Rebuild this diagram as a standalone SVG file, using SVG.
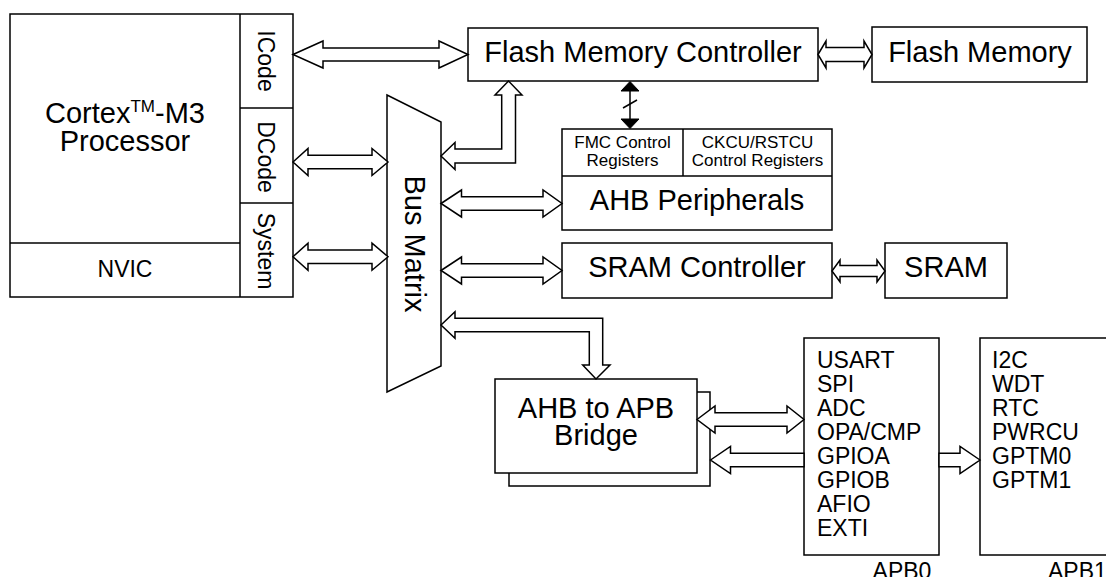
<svg xmlns="http://www.w3.org/2000/svg" width="1106" height="577" viewBox="0 0 1106 577">
<style>
.box{fill:#fff;stroke:#000;stroke-width:1.5}
.ln{fill:none;stroke:#000;stroke-width:1.5}
.arr{fill:#fff;stroke:#000;stroke-width:1.5;stroke-linejoin:miter}
text{font-family:"Liberation Sans",Arial,sans-serif;fill:#000}
.L{font-size:29px}
.M{font-size:23px}
.S{font-size:17px}
.c{text-anchor:middle}
</style>
<rect width="1106" height="577" fill="#fff"/>
<g id="processor">
<rect class="box" x="10" y="14" width="283" height="283"/>
<line class="ln" x1="240" y1="14" x2="240" y2="297"/>
<line class="ln" x1="10" y1="243" x2="240" y2="243"/>
<line class="ln" x1="240" y1="108" x2="293" y2="108"/>
<line class="ln" x1="240" y1="203" x2="293" y2="203"/>
<text class="L c" x="125" y="123">Cortex<tspan font-size="17" dy="-11">TM</tspan><tspan dy="11">-M3</tspan></text>
<text class="L c" x="125" y="151">Processor</text>
<text class="M c" x="125" y="277">NVIC</text>
<text class="M c" transform="translate(258,61) rotate(90)">ICode</text>
<text class="M c" transform="translate(258,157) rotate(90)">DCode</text>
<text class="M c" transform="translate(258,251) rotate(90)">System</text>
</g>
<g id="busmatrix">
<polygon class="box" points="387,95 441,122 441,366 387,392"/>
<text class="L c" transform="translate(405,244) rotate(90)">Bus Matrix</text>
</g>
<g id="fmc">
<rect class="box" x="468" y="28" width="350" height="53"/>
<text class="L c" x="643" y="62">Flash Memory Controller</text>
</g>
<g id="flash">
<rect class="box" x="872" y="27" width="215" height="55"/>
<text class="L c" x="980" y="62">Flash Memory</text>
</g>
<g id="ahb">
<rect class="box" x="562" y="129" width="270" height="101"/>
<line class="ln" x1="562" y1="176" x2="832" y2="176"/>
<line class="ln" x1="683" y1="129" x2="683" y2="176"/>
<text class="S c" x="622.5" y="148">FMC Control</text>
<text class="S c" x="622.5" y="166">Registers</text>
<text class="S c" x="757.5" y="148">CKCU/RSTCU</text>
<text class="S c" x="757.5" y="166">Control Registers</text>
<text class="L c" x="697" y="210">AHB Peripherals</text>
</g>
<g id="sramctrl">
<rect class="box" x="562" y="243" width="270" height="55"/>
<text class="L c" x="697" y="277">SRAM Controller</text>
</g>
<g id="sram">
<rect class="box" x="885" y="243" width="122" height="55"/>
<text class="L c" x="946" y="277">SRAM</text>
</g>
<g id="bridge">
<rect class="box" x="509" y="392" width="201" height="94"/>
<rect class="box" x="495" y="379" width="202" height="94"/>
<text class="L c" x="596" y="418">AHB to APB</text>
<text class="L c" x="596" y="445">Bridge</text>
</g>
<g id="apb0">
<rect class="box" x="804" y="338" width="135" height="217"/>
<text class="M" x="817" y="368">USART</text>
<text class="M" x="817" y="392">SPI</text>
<text class="M" x="817" y="416">ADC</text>
<text class="M" x="817" y="440">OPA/CMP</text>
<text class="M" x="817" y="464">GPIOA</text>
<text class="M" x="817" y="488">GPIOB</text>
<text class="M" x="817" y="512">AFIO</text>
<text class="M" x="817" y="536">EXTI</text>
<text class="M c" x="902" y="579">APB0</text>
</g>
<g id="apb1">
<rect class="box" x="980" y="338" width="140" height="217"/>
<text class="M" x="992" y="368">I2C</text>
<text class="M" x="992" y="392">WDT</text>
<text class="M" x="992" y="416">RTC</text>
<text class="M" x="992" y="440">PWRCU</text>
<text class="M" x="992" y="464">GPTM0</text>
<text class="M" x="992" y="488">GPTM1</text>
<text class="M" x="1048" y="579">APB1</text>
</g>
<g id="connectors">
<polygon class="arr" points="293,54.5 323,41 323,48 439,48 439,41 468,54.5 439,68 439,61 323,61 323,68"/>
<polygon class="arr" points="818,54.5 826,41 826,47.5 864,47.5 864,41 872,54.5 864,68 864,61.5 826,61.5 826,68"/>
<polygon class="arr" points="293,162 308,148.5 308,155.3 372,155.3 372,148.5 388,162 372,175.5 372,168.7 308,168.7 308,175.5"/>
<polygon class="arr" points="293,256.7 308,243.2 308,250 372,250 372,243.2 388,256.7 372,270.2 372,263.4 308,263.4 308,270.2"/>
<polygon class="arr" points="441,156 455,142.5 455,149 501.7,149 501.7,95 495,95 508.5,81 522,95 515.5,95 515.5,163 455,163 455,169.5"/>
<polygon class="arr" points="441,203.5 461.5,190 461.5,196.8 543,196.8 543,190 562,203.5 543,217 543,210.2 461.5,210.2 461.5,217"/>
<polygon class="arr" points="441,270.5 461.5,257 461.5,263.8 543,263.8 543,257 562,270.5 543,284 543,277.2 461.5,277.2 461.5,284"/>
<polygon class="arr" points="832,271 840,260 840,265.5 877,265.5 877,260 885,271 877,282 877,276.5 840,276.5 840,282"/>
<polygon class="arr" points="441,325 455,311.7 455,318.3 602.7,318.3 602.7,365 610,365 596,379 582.7,365 589.3,365 589.3,331.7 455,331.7 455,338.3"/>
<polygon class="arr" points="697,419.5 715,406 715,412.8 787,412.8 787,406 804,419.5 787,433 787,426.2 715,426.2 715,433"/>
<polygon class="arr" points="710.5,460 730.5,446.5 730.5,453.3 804,453.3 804,466.7 730.5,466.7 730.5,473.5"/>
<polygon class="arr" points="980,460 960,446.5 960,453.3 939,453.3 939,466.7 960,466.7 960,473.5"/>
<line class="ln" x1="630" y1="90" x2="630" y2="120"/>
<polygon fill="#000" stroke="#000" stroke-width="1" points="630,81.5 621,91 639,91"/>
<polygon fill="#000" stroke="#000" stroke-width="1" points="630,128.5 621,119 639,119"/>
<line class="ln" x1="623" y1="108" x2="637" y2="100"/>
</g>
</svg>
